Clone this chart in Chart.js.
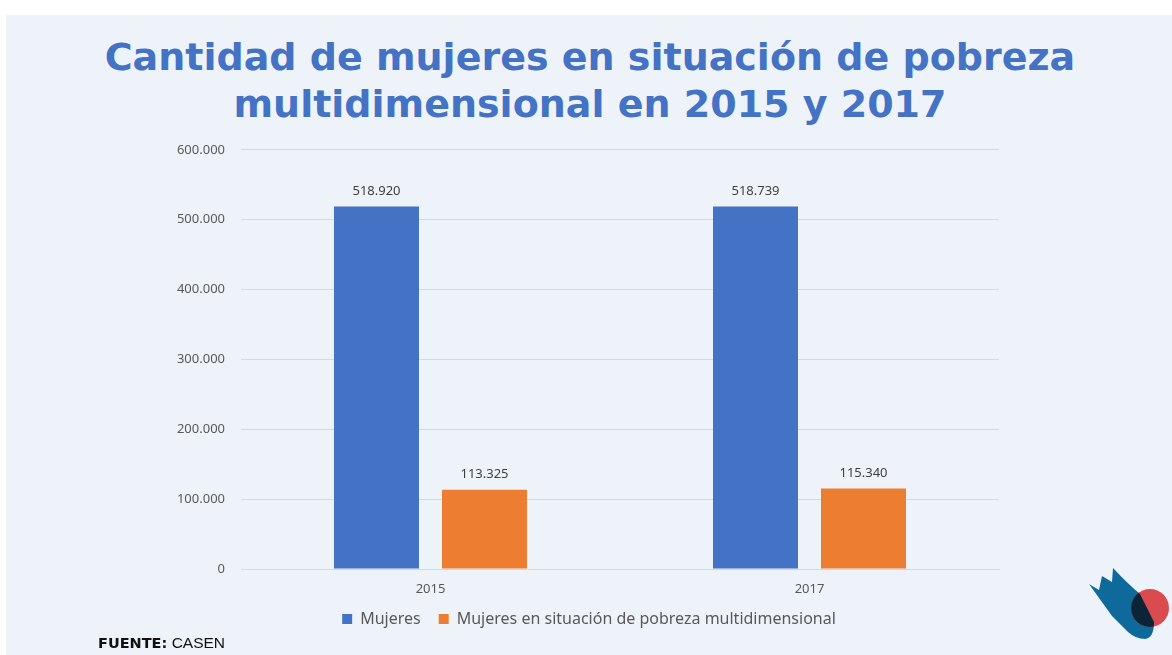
<!DOCTYPE html>
<html>
<head>
<meta charset="utf-8">
<script src="https://cdn.jsdelivr.net/npm/chart.js@4.4.1/dist/chart.umd.min.js"></script>
<style>
    body { margin: 0; background: #ffffff; width: 1172px; height: 655px; overflow: hidden; position: relative; }
    #slide { position: absolute; left: 6px; top: 15px; width: 1166px; height: 640px; background: #EEF3FA; }
    #title { position: absolute; left: 0; top: 34px; width: 1180px; text-align: center; margin: 0;
        font: bold 38px/47px "DejaVu Sans", Verdana, sans-serif; color: #4472C4; }
    #chart-box { position: absolute; left: 6px; top: 126px; width: 1166px; height: 529px; }
    #fuente { position: absolute; left: 98px; top: 634px; font: 15.5px "Liberation Sans", Arial, sans-serif; color: #111; }
    #fuente b { font-family: "DejaVu Sans", Verdana, sans-serif; font-size: 14.5px; }
    #logo { position: absolute; left: 1080px; top: 560px; }
</style>
</head>
<body>
<div id="slide"></div>
<h1 id="title">Cantidad de mujeres en situación de pobreza<br>multidimensional en 2015 y 2017</h1>
<div id="chart-box">
    <canvas id="chart" width="1166" height="529"></canvas>
</div>
<div id="fuente"><b>FUENTE:</b> CASEN</div>
<svg id="logo" width="92" height="95" viewBox="0 0 92 95">
    <defs>
        <clipPath id="logo-clip">
            <path d="M9 24 L19 30 L22 16 L32 22 L33 8 Q48 24 60 34 L74 62 Q74 78 65 79 Q56 79 48 72 L32 56 Z"/>
        </clipPath>
    </defs>
    <path d="M9 24 L19 30 L22 16 L32 22 L33 8 Q48 24 60 34 L74 62 Q74 78 65 79 Q56 79 48 72 L32 56 Z" fill="#0F6A9C"/>
    <circle cx="70" cy="48" r="19" fill="#DA4B4F"/>
    <circle cx="70" cy="48" r="19" fill="#0B2438" clip-path="url(#logo-clip)"/>
</svg>

<script>
    // datos
    const years = ['2015', '2017'];
    const mujeres = [518920, 518739];
    const mujeresPobreza = [113325, 115340];
    const seriesNames = ['Mujeres', 'Mujeres en situación de pobreza multidimensional'];

    const formatNumber = function (value) {
        return String(Math.round(value)).replace(/\B(?=(\d{3})+(?!\d))/g, '.');
    }

    // etiquetas encima de las barras
    const barLabels = {
        id: 'barLabels',
        afterDatasetsDraw(chart) {
            const ctx = chart.ctx;
            ctx.save();
            ctx.font = '13px "Noto Sans"';
            ctx.fillStyle = '#404040';
            ctx.textAlign = 'center';
            ctx.textBaseline = 'bottom';
            chart.data.datasets.forEach((dataset, i) => {
                chart.getDatasetMeta(i).data.forEach((bar, j) => {
                    ctx.fillText(formatNumber(dataset.data[j]), bar.x, bar.y - 9);
                });
            });
            ctx.restore();
        }
    }

    let plotChart = document.getElementById('chart');

    new Chart(plotChart, {
        type: 'bar',
        data: {
            labels: years,
            datasets: [{
                label: seriesNames[0],
                data: mujeres,
                backgroundColor: '#4472C4',
                borderWidth: 0
            }, {
                label: seriesNames[1],
                data: mujeresPobreza,
                backgroundColor: '#ED7D31',
                borderWidth: 0
            }]
        },
        options: {
            responsive: false,
            animation: false,
            categoryPercentage: 0.57,
            barPercentage: 0.787,
            layout: {
                padding: {left: 0, right: 0, top: 15, bottom: 18}
            },
            plugins: {
                legend: {
                    position: 'bottom',
                    labels: {
                        boxWidth: 10,
                        boxHeight: 10,
                        color: '#595959',
                        font: {family: '"Noto Sans"', size: 16},
                        padding: 18
                    }
                },
                tooltip: {enabled: false}
            },
            scales: {
                x: {
                    grid: {display: false},
                    border: {display: true, color: '#D9D9D9'},
                    afterFit(scale) {
                        scale.height = 24;
                    },
                    ticks: {
                        color: '#595959',
                        font: {family: '"Noto Sans"', size: 13},
                        padding: 4
                    }
                },
                y: {
                    min: 0,
                    max: 600000,
                    afterFit(scale) {
                        scale.width = 235;
                    },
                    grid: {color: '#D9D9D9', drawTicks: false},
                    border: {display: false},
                    ticks: {
                        stepSize: 100000,
                        color: '#595959',
                        font: {family: '"Noto Sans"', size: 13},
                        padding: 16,
                        callback: function (value) {
                            return formatNumber(value);
                        }
                    }
                },
                // eje vacio a la derecha solo para dejar el espacio
                yRight: {
                    type: 'linear',
                    position: 'right',
                    display: true,
                    grid: {display: false},
                    border: {display: false},
                    ticks: {display: false},
                    afterFit(scale) {
                        scale.width = 173;
                    }
                }
            }
        },
        plugins: [barLabels]
    });
</script>
</body>
</html>
